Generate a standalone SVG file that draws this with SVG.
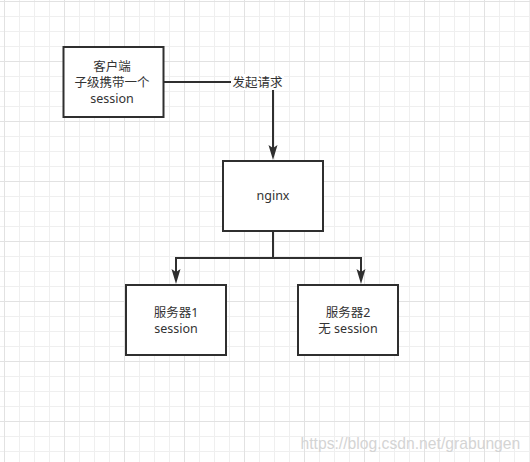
<svg xmlns="http://www.w3.org/2000/svg" width="530" height="462" viewBox="0 0 530 462">
  <defs>
    <pattern id="grid" x="4" y="1" width="60" height="60" patternUnits="userSpaceOnUse">
      <rect width="60" height="60" fill="#ffffff"/>
      <g fill="#efefef">
        <rect x="15" y="0" width="1" height="60"/>
        <rect x="30" y="0" width="1" height="60"/>
        <rect x="45" y="0" width="1" height="60"/>
        <rect x="0" y="15" width="60" height="1"/>
        <rect x="0" y="30" width="60" height="1"/>
        <rect x="0" y="45" width="60" height="1"/>
      </g>
      <g fill="#e2e2e2">
        <rect x="0" y="0" width="1" height="60"/>
        <rect x="0" y="0" width="60" height="1"/>
      </g>
    </pattern>
    <marker id="arrow" viewBox="0 0 15 10" refX="3" refY="5" markerWidth="15" markerHeight="10" markerUnits="userSpaceOnUse" orient="auto">
      <path d="M0,0.5 L15,5 L0,9.5 L3,5 Z" fill="#2f2f2f"/>
    </marker>
    <style>
      .box { fill: #ffffff; stroke: #2f2f2f; stroke-width: 2; }
      .edge { fill: none; stroke: #2f2f2f; stroke-width: 2; }
      .t { font-family: "Noto Sans", "Noto Sans CJK SC", sans-serif; font-size: 12.5px; fill: #333333; text-anchor: middle; dominant-baseline: central; }
      .wm { font-family: "Liberation Sans", Arial, sans-serif; font-size: 15.7px; fill: #d4d4d4; }
    </style>
  </defs>

  <rect x="0" y="0" width="530" height="462" fill="url(#grid)"/>

  <g id="connectors">
    <path class="edge" d="M163.5,82 H273 V148" marker-end="url(#arrow)"/>
    <rect x="231" y="74" width="53" height="16" fill="#ffffff"/>
    <text class="t" x="257.5" y="82">发起请求</text>
    <path class="edge" d="M273,231 V258 H176 V272" marker-end="url(#arrow)"/>
    <path class="edge" d="M273,258 H361 V272" marker-end="url(#arrow)"/>
  </g>

  <g id="client">
    <rect class="box" x="63.5" y="47" width="100" height="70"/>
    <text class="t" x="112" y="66">客户端</text>
    <text class="t" x="112" y="82.5">子级携带一个</text>
    <text class="t" x="112" y="98.5">session</text>
  </g>

  <g id="nginx">
    <rect class="box" x="223" y="161" width="100" height="70"/>
    <text class="t" x="273" y="195.5">nginx</text>
  </g>

  <g id="server1">
    <rect class="box" x="126" y="285" width="100" height="70"/>
    <text class="t" x="176" y="312.5">服务器1</text>
    <text class="t" x="176" y="328.5">session</text>
  </g>

  <g id="server2">
    <rect class="box" x="298" y="285" width="100" height="70"/>
    <text class="t" x="348" y="312.5">服务器2</text>
    <text class="t" x="348" y="328.5">无 session</text>
  </g>

  <text class="wm" x="300.5" y="449">https://blog.csdn.net/grabungen</text>
</svg>
